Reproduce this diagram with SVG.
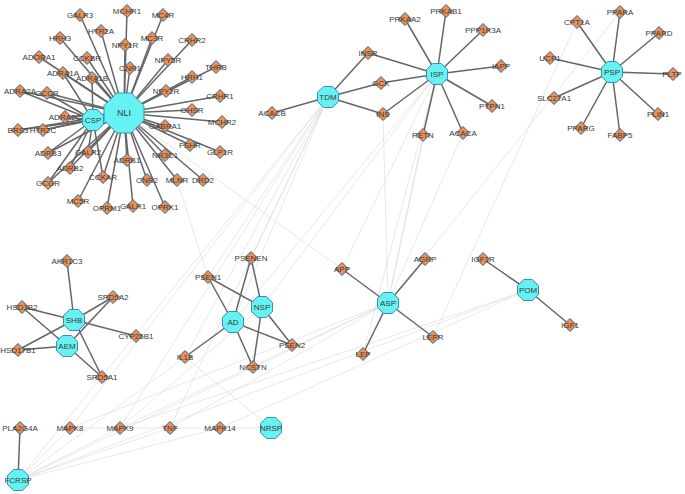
<svg xmlns="http://www.w3.org/2000/svg" xmlns:xlink="http://www.w3.org/1999/xlink" width="685" height="494" viewBox="0 0 685 494">
<style>
.e{stroke:#666;stroke-width:1.5;fill:none}
.f{stroke:#d9d9d9;stroke-width:0.6;fill:none}
.g{fill:#EE9055;stroke:#2E6A8E;stroke-width:1}
.h{fill:#66F2F2;stroke:#3A8FB7;stroke-width:1}
text{font-family:"Liberation Sans",Arial,sans-serif;font-size:8px;fill:#3a3a3a;text-anchor:middle}
</style>
<defs>
<polygon id="d" points="0,-6.5 6.5,0 0,6.5 -6.5,0"/>
<polygon id="o" points="-4.35,-10.5 4.35,-10.5 10.5,-4.35 10.5,4.35 4.35,10.5 -4.35,10.5 -10.5,4.35 -10.5,-4.35"/>
</defs>
<rect width="685" height="494" fill="#fff"/>
<g id="connectors">
<g class="f">
<line x1="328" y1="97" x2="251" y2="258"/>
<line x1="328" y1="97" x2="208" y2="277"/>
<line x1="328" y1="97" x2="233" y2="322"/>
<line x1="328" y1="97" x2="120" y2="428"/>
<line x1="328" y1="97" x2="70" y2="428"/>
<line x1="328" y1="97" x2="18" y2="480"/>
<line x1="328" y1="97" x2="185" y2="357"/>
<line x1="437" y1="74" x2="388" y2="303"/>
<line x1="383" y1="114" x2="388" y2="303"/>
<line x1="423" y1="135" x2="388" y2="303"/>
<line x1="463" y1="133" x2="388" y2="303"/>
<line x1="437" y1="74" x2="262" y2="307"/>
<line x1="437" y1="74" x2="233" y2="322"/>
<line x1="437" y1="74" x2="342" y2="269"/>
<line x1="437" y1="74" x2="363" y2="354"/>
<line x1="620" y1="12" x2="388" y2="303"/>
<line x1="577" y1="22" x2="433" y2="337"/>
<line x1="124" y1="113" x2="342" y2="269"/>
<line x1="177" y1="180" x2="208" y2="277"/>
<line x1="271" y1="428" x2="185" y2="357"/>
<line x1="271" y1="428" x2="70" y2="428"/>
<line x1="18" y1="480" x2="70" y2="428"/>
<line x1="18" y1="480" x2="120" y2="428"/>
<line x1="18" y1="480" x2="170" y2="428"/>
<line x1="18" y1="480" x2="220" y2="428"/>
<line x1="18" y1="480" x2="388" y2="303"/>
<line x1="18" y1="480" x2="528" y2="290"/>
<line x1="18" y1="480" x2="233" y2="322"/>
<line x1="70" y1="428" x2="388" y2="303"/>
<line x1="120" y1="428" x2="388" y2="303"/>
<line x1="170" y1="428" x2="388" y2="303"/>
<line x1="120" y1="428" x2="528" y2="290"/>
<line x1="220" y1="428" x2="528" y2="290"/>
<line x1="170" y1="428" x2="328" y2="97"/>
<line x1="120" y1="428" x2="262" y2="307"/>
</g>
<g class="e">
<line x1="124" y1="113" x2="80" y2="15"/>
<line x1="124" y1="113" x2="127" y2="11"/>
<line x1="124" y1="113" x2="163" y2="15"/>
<line x1="124" y1="113" x2="60" y2="38"/>
<line x1="124" y1="113" x2="101" y2="31"/>
<line x1="124" y1="113" x2="125" y2="45"/>
<line x1="124" y1="113" x2="152" y2="38"/>
<line x1="124" y1="113" x2="192" y2="40"/>
<line x1="124" y1="113" x2="39" y2="57"/>
<line x1="124" y1="113" x2="87" y2="58"/>
<line x1="124" y1="113" x2="130" y2="68"/>
<line x1="124" y1="113" x2="168" y2="60"/>
<line x1="124" y1="113" x2="216" y2="67"/>
<line x1="124" y1="113" x2="63" y2="73"/>
<line x1="124" y1="113" x2="92" y2="78"/>
<line x1="124" y1="113" x2="192" y2="77"/>
<line x1="124" y1="113" x2="20" y2="91"/>
<line x1="124" y1="113" x2="47" y2="93"/>
<line x1="124" y1="113" x2="166" y2="91"/>
<line x1="124" y1="113" x2="220" y2="96"/>
<line x1="124" y1="113" x2="192" y2="110"/>
<line x1="124" y1="113" x2="65" y2="117"/>
<line x1="124" y1="113" x2="222" y2="122"/>
<line x1="124" y1="113" x2="165" y2="126"/>
<line x1="124" y1="113" x2="18" y2="130"/>
<line x1="124" y1="113" x2="43" y2="130"/>
<line x1="124" y1="113" x2="190" y2="145"/>
<line x1="124" y1="113" x2="220" y2="152"/>
<line x1="124" y1="113" x2="48" y2="153"/>
<line x1="124" y1="113" x2="88" y2="152"/>
<line x1="124" y1="113" x2="165" y2="155"/>
<line x1="124" y1="113" x2="127" y2="160"/>
<line x1="124" y1="113" x2="70" y2="168"/>
<line x1="124" y1="113" x2="103" y2="177"/>
<line x1="124" y1="113" x2="147" y2="180"/>
<line x1="124" y1="113" x2="177" y2="180"/>
<line x1="124" y1="113" x2="203" y2="180"/>
<line x1="124" y1="113" x2="48" y2="183"/>
<line x1="124" y1="113" x2="78" y2="201"/>
<line x1="124" y1="113" x2="107" y2="208"/>
<line x1="124" y1="113" x2="133" y2="206"/>
<line x1="124" y1="113" x2="165" y2="207"/>
<line x1="93" y1="120" x2="63" y2="73"/>
<line x1="93" y1="120" x2="92" y2="78"/>
<line x1="93" y1="120" x2="20" y2="91"/>
<line x1="93" y1="120" x2="47" y2="93"/>
<line x1="93" y1="120" x2="65" y2="117"/>
<line x1="93" y1="120" x2="18" y2="130"/>
<line x1="93" y1="120" x2="43" y2="130"/>
<line x1="93" y1="120" x2="48" y2="153"/>
<line x1="93" y1="120" x2="88" y2="152"/>
<line x1="93" y1="120" x2="70" y2="168"/>
<line x1="93" y1="120" x2="103" y2="177"/>
<line x1="93" y1="120" x2="48" y2="183"/>
<line x1="328" y1="97" x2="272" y2="113"/>
<line x1="328" y1="97" x2="368" y2="53"/>
<line x1="328" y1="97" x2="381" y2="83"/>
<line x1="328" y1="97" x2="383" y2="114"/>
<line x1="437" y1="74" x2="368" y2="53"/>
<line x1="437" y1="74" x2="381" y2="83"/>
<line x1="437" y1="74" x2="383" y2="114"/>
<line x1="437" y1="74" x2="405" y2="19"/>
<line x1="437" y1="74" x2="446" y2="11"/>
<line x1="437" y1="74" x2="483" y2="30"/>
<line x1="437" y1="74" x2="501" y2="66"/>
<line x1="437" y1="74" x2="492" y2="106"/>
<line x1="437" y1="74" x2="463" y2="133"/>
<line x1="437" y1="74" x2="423" y2="135"/>
<line x1="612" y1="72" x2="577" y2="22"/>
<line x1="612" y1="72" x2="620" y2="12"/>
<line x1="612" y1="72" x2="659" y2="33"/>
<line x1="612" y1="72" x2="550" y2="58"/>
<line x1="612" y1="72" x2="673" y2="74"/>
<line x1="612" y1="72" x2="554" y2="98"/>
<line x1="612" y1="72" x2="658" y2="114"/>
<line x1="612" y1="72" x2="581" y2="128"/>
<line x1="612" y1="72" x2="620" y2="135"/>
<line x1="74" y1="320" x2="67" y2="261"/>
<line x1="74" y1="320" x2="113" y2="297"/>
<line x1="74" y1="320" x2="22" y2="307"/>
<line x1="74" y1="320" x2="136" y2="336"/>
<line x1="74" y1="320" x2="18" y2="350"/>
<line x1="74" y1="320" x2="102" y2="377"/>
<line x1="67" y1="346" x2="22" y2="307"/>
<line x1="67" y1="346" x2="113" y2="297"/>
<line x1="67" y1="346" x2="18" y2="350"/>
<line x1="67" y1="346" x2="102" y2="377"/>
<line x1="233" y1="322" x2="208" y2="277"/>
<line x1="233" y1="322" x2="251" y2="258"/>
<line x1="233" y1="322" x2="185" y2="357"/>
<line x1="233" y1="322" x2="253" y2="367"/>
<line x1="233" y1="322" x2="292" y2="345"/>
<line x1="262" y1="307" x2="208" y2="277"/>
<line x1="262" y1="307" x2="251" y2="258"/>
<line x1="262" y1="307" x2="253" y2="367"/>
<line x1="262" y1="307" x2="292" y2="345"/>
<line x1="388" y1="303" x2="342" y2="269"/>
<line x1="388" y1="303" x2="425" y2="259"/>
<line x1="388" y1="303" x2="433" y2="337"/>
<line x1="388" y1="303" x2="363" y2="354"/>
<line x1="528" y1="290" x2="483" y2="259"/>
<line x1="528" y1="290" x2="570" y2="325"/>
<line x1="18" y1="480" x2="20" y2="428"/>
</g>
</g>
<g id="nodes">
<g id="NLI"><polygon class="h" points="116.7,93 131.3,93 144,105.7 144,120.3 131.3,133 116.7,133 104,120.3 104,105.7"/><text x="124" y="116" style="font-size:9px">NLI</text></g>
<g id="CSP"><use href="#o" x="93" y="120" class="h"/><text x="93" y="123">CSP</text></g>
<g id="n-GALR3"><use href="#d" x="80" y="15" class="g"/><text x="80" y="18">GALR3</text></g>
<g id="n-MCHR1"><use href="#d" x="127" y="11" class="g"/><text x="127" y="14">MCHR1</text></g>
<g id="n-MC4R"><use href="#d" x="163" y="15" class="g"/><text x="163" y="18">MC4R</text></g>
<g id="n-HRH3"><use href="#d" x="60" y="38" class="g"/><text x="60" y="41">HRH3</text></g>
<g id="n-HTR2A"><use href="#d" x="101" y="31" class="g"/><text x="101" y="34">HTR2A</text></g>
<g id="n-NPY1R"><use href="#d" x="125" y="45" class="g"/><text x="125" y="48">NPY1R</text></g>
<g id="n-MC3R"><use href="#d" x="152" y="38" class="g"/><text x="152" y="41">MC3R</text></g>
<g id="n-CRHR2"><use href="#d" x="192" y="40" class="g"/><text x="192" y="43">CRHR2</text></g>
<g id="n-ADORA1"><use href="#d" x="39" y="57" class="g"/><text x="39" y="60">ADORA1</text></g>
<g id="n-CCKBR"><use href="#d" x="87" y="58" class="g"/><text x="87" y="61">CCKBR</text></g>
<g id="n-CNR1"><use href="#d" x="130" y="68" class="g"/><text x="130" y="71">CNR1</text></g>
<g id="n-NPY5R"><use href="#d" x="168" y="60" class="g"/><text x="168" y="63">NPY5R</text></g>
<g id="n-THRB"><use href="#d" x="216" y="67" class="g"/><text x="216" y="70">THRB</text></g>
<g id="n-ADRA1A"><use href="#d" x="63" y="73" class="g"/><text x="63" y="76">ADRA1A</text></g>
<g id="n-ADRA1B"><use href="#d" x="92" y="78" class="g"/><text x="92" y="81">ADRA1B</text></g>
<g id="n-HRH1"><use href="#d" x="192" y="77" class="g"/><text x="192" y="80">HRH1</text></g>
<g id="n-ADRA2A"><use href="#d" x="20" y="91" class="g"/><text x="20" y="94">ADRA2A</text></g>
<g id="n-GCCR"><use href="#d" x="47" y="93" class="g"/><text x="47" y="96">GCCR</text></g>
<g id="n-NPY2R"><use href="#d" x="166" y="91" class="g"/><text x="166" y="94">NPY2R</text></g>
<g id="n-CRHR1"><use href="#d" x="220" y="96" class="g"/><text x="220" y="99">CRHR1</text></g>
<g id="n-GHSR"><use href="#d" x="192" y="110" class="g"/><text x="192" y="113">GHSR</text></g>
<g id="n-ADRA2C"><use href="#d" x="65" y="117" class="g"/><text x="65" y="120">ADRA2C</text></g>
<g id="n-MCHR2"><use href="#d" x="222" y="122" class="g"/><text x="222" y="125">MCHR2</text></g>
<g id="n-GABRA1"><use href="#d" x="165" y="126" class="g"/><text x="165" y="129">GABRA1</text></g>
<g id="n-BRS3"><use href="#d" x="18" y="130" class="g"/><text x="18" y="133">BRS3</text></g>
<g id="n-HTR2C"><use href="#d" x="43" y="130" class="g"/><text x="43" y="133">HTR2C</text></g>
<g id="n-FSHR"><use href="#d" x="190" y="145" class="g"/><text x="190" y="148">FSHR</text></g>
<g id="n-GLP1R"><use href="#d" x="220" y="152" class="g"/><text x="220" y="155">GLP1R</text></g>
<g id="n-ADRB3"><use href="#d" x="48" y="153" class="g"/><text x="48" y="156">ADRB3</text></g>
<g id="n-GALR2"><use href="#d" x="88" y="152" class="g"/><text x="88" y="155">GALR2</text></g>
<g id="n-NR3C1"><use href="#d" x="165" y="155" class="g"/><text x="165" y="158">NR3C1</text></g>
<g id="n-ADRB1"><use href="#d" x="127" y="160" class="g"/><text x="127" y="163">ADRB1</text></g>
<g id="n-ADRB2"><use href="#d" x="70" y="168" class="g"/><text x="70" y="171">ADRB2</text></g>
<g id="n-CCKAR"><use href="#d" x="103" y="177" class="g"/><text x="103" y="180">CCKAR</text></g>
<g id="n-CNR2"><use href="#d" x="147" y="180" class="g"/><text x="147" y="183">CNR2</text></g>
<g id="n-MLNR"><use href="#d" x="177" y="180" class="g"/><text x="177" y="183">MLNR</text></g>
<g id="n-DRD2"><use href="#d" x="203" y="180" class="g"/><text x="203" y="183">DRD2</text></g>
<g id="n-GCGR"><use href="#d" x="48" y="183" class="g"/><text x="48" y="186">GCGR</text></g>
<g id="n-MC5R"><use href="#d" x="78" y="201" class="g"/><text x="78" y="204">MC5R</text></g>
<g id="n-OPRM1"><use href="#d" x="107" y="208" class="g"/><text x="107" y="211">OPRM1</text></g>
<g id="n-GALR1"><use href="#d" x="133" y="206" class="g"/><text x="133" y="209">GALR1</text></g>
<g id="n-OPRK1"><use href="#d" x="165" y="207" class="g"/><text x="165" y="210">OPRK1</text></g>

<g id="TDM"><use href="#o" x="328" y="97" class="h"/><text x="328" y="100">TDM</text></g>
<g id="ISP"><use href="#o" x="437" y="74" class="h"/><text x="437" y="77">ISP</text></g>
<g id="n-ACACB"><use href="#d" x="272" y="113" class="g"/><text x="272" y="116">ACACB</text></g>
<g id="n-INSR"><use href="#d" x="368" y="53" class="g"/><text x="368" y="56">INSR</text></g>
<g id="n-GCK"><use href="#d" x="381" y="83" class="g"/><text x="381" y="86">GCK</text></g>
<g id="n-INS"><use href="#d" x="383" y="114" class="g"/><text x="383" y="117">INS</text></g>
<g id="n-PRKAA2"><use href="#d" x="405" y="19" class="g"/><text x="405" y="22">PRKAA2</text></g>
<g id="n-PRKAB1"><use href="#d" x="446" y="11" class="g"/><text x="446" y="14">PRKAB1</text></g>
<g id="n-PPP1R3A"><use href="#d" x="483" y="30" class="g"/><text x="483" y="33">PPP1R3A</text></g>
<g id="n-IAPP"><use href="#d" x="501" y="66" class="g"/><text x="501" y="69">IAPP</text></g>
<g id="n-PTPN1"><use href="#d" x="492" y="106" class="g"/><text x="492" y="109">PTPN1</text></g>
<g id="n-ACACA"><use href="#d" x="463" y="133" class="g"/><text x="463" y="136">ACACA</text></g>
<g id="n-RETN"><use href="#d" x="423" y="135" class="g"/><text x="423" y="138">RETN</text></g>

<g id="PSP"><use href="#o" x="612" y="72" class="h"/><text x="612" y="75">PSP</text></g>
<g id="n-CPT1A"><use href="#d" x="577" y="22" class="g"/><text x="577" y="25">CPT1A</text></g>
<g id="n-PPARA"><use href="#d" x="620" y="12" class="g"/><text x="620" y="15">PPARA</text></g>
<g id="n-PPARD"><use href="#d" x="659" y="33" class="g"/><text x="659" y="36">PPARD</text></g>
<g id="n-UCP1"><use href="#d" x="550" y="58" class="g"/><text x="550" y="61">UCP1</text></g>
<g id="n-PLTP"><use href="#d" x="673" y="74" class="g"/><text x="672" y="77">PLTP</text></g>
<g id="n-SLC27A1"><use href="#d" x="554" y="98" class="g"/><text x="554" y="101">SLC27A1</text></g>
<g id="n-PLIN1"><use href="#d" x="658" y="114" class="g"/><text x="658" y="117">PLIN1</text></g>
<g id="n-PPARG"><use href="#d" x="581" y="128" class="g"/><text x="581" y="131">PPARG</text></g>
<g id="n-FABP5"><use href="#d" x="620" y="135" class="g"/><text x="620" y="138">FABP5</text></g>

<g id="SHB"><use href="#o" x="74" y="320" class="h"/><text x="74" y="323">SHB</text></g>
<g id="AEM"><use href="#o" x="67" y="346" class="h"/><text x="67" y="349">AEM</text></g>
<g id="n-AKR1C3"><use href="#d" x="67" y="261" class="g"/><text x="67" y="264">AKR1C3</text></g>
<g id="n-SRD5A2"><use href="#d" x="113" y="297" class="g"/><text x="113" y="300">SRD5A2</text></g>
<g id="n-HSD3B2"><use href="#d" x="22" y="307" class="g"/><text x="22" y="310">HSD3B2</text></g>
<g id="n-CYP26B1"><use href="#d" x="136" y="336" class="g"/><text x="136" y="339">CYP26B1</text></g>
<g id="n-HSD17B1"><use href="#d" x="18" y="350" class="g"/><text x="18" y="353">HSD17B1</text></g>
<g id="n-SRD5A1"><use href="#d" x="102" y="377" class="g"/><text x="102" y="380">SRD5A1</text></g>

<g id="AD"><use href="#o" x="233" y="322" class="h"/><text x="233" y="325">AD</text></g>
<g id="NSP"><use href="#o" x="262" y="307" class="h"/><text x="262" y="310">NSP</text></g>
<g id="n-PSENEN"><use href="#d" x="251" y="258" class="g"/><text x="251" y="261">PSENEN</text></g>
<g id="n-PSEN1"><use href="#d" x="208" y="277" class="g"/><text x="208" y="280">PSEN1</text></g>
<g id="n-PSEN2"><use href="#d" x="292" y="345" class="g"/><text x="292" y="348">PSEN2</text></g>
<g id="n-IL1B"><use href="#d" x="185" y="357" class="g"/><text x="185" y="360">IL1B</text></g>
<g id="n-NCSTN"><use href="#d" x="253" y="367" class="g"/><text x="253" y="370">NCSTN</text></g>

<g id="ASP"><use href="#o" x="388" y="303" class="h"/><text x="388" y="306">ASP</text></g>
<g id="n-APP"><use href="#d" x="342" y="269" class="g"/><text x="342" y="272">APP</text></g>
<g id="n-AGRP"><use href="#d" x="425" y="259" class="g"/><text x="425" y="262">AGRP</text></g>
<g id="n-LEPR"><use href="#d" x="433" y="337" class="g"/><text x="433" y="340">LEPR</text></g>
<g id="n-LEP"><use href="#d" x="363" y="354" class="g"/><text x="363" y="357">LEP</text></g>
<g id="POM"><use href="#o" x="528" y="290" class="h"/><text x="528" y="293">POM</text></g>
<g id="n-IGF1R"><use href="#d" x="483" y="259" class="g"/><text x="483" y="262">IGF1R</text></g>
<g id="n-IGF1"><use href="#d" x="570" y="325" class="g"/><text x="570" y="328">IGF1</text></g>

<g id="n-PLA2G4A"><use href="#d" x="20" y="428" class="g"/><text x="20" y="431">PLA2G4A</text></g>
<g id="n-MAPK8"><use href="#d" x="70" y="428" class="g"/><text x="70" y="431">MAPK8</text></g>
<g id="n-MAPK9"><use href="#d" x="120" y="428" class="g"/><text x="120" y="431">MAPK9</text></g>
<g id="n-TNF"><use href="#d" x="170" y="428" class="g"/><text x="170" y="431">TNF</text></g>
<g id="n-MAPK14"><use href="#d" x="220" y="428" class="g"/><text x="220" y="431">MAPK14</text></g>
<g id="NRSP"><use href="#o" x="271" y="428" class="h"/><text x="271" y="431">NRSP</text></g>
<g id="FCRSP"><use href="#o" x="18" y="480" class="h"/><text x="18" y="483">FCRSP</text></g>
</g>
</svg>
